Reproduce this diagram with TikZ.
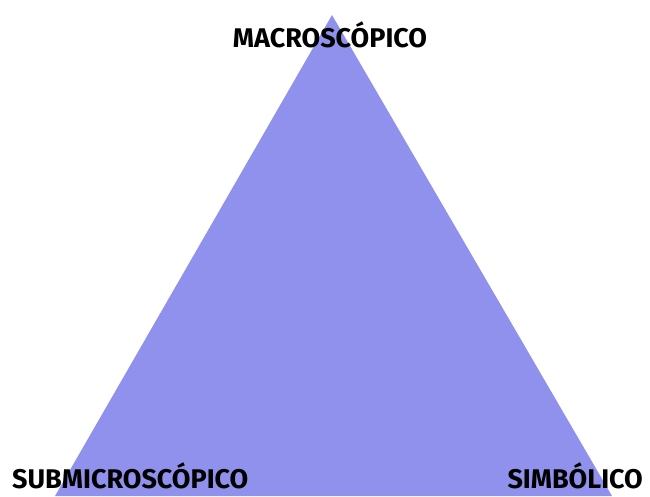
\documentclass[tikz,border=0pt]{standalone}
\usepackage{fontspec}
\setmainfont{Fira Sans}
\definecolor{trianglepurple}{RGB}{144, 144, 237}
\usetikzlibrary{positioning}

\begin{document}
\begin{tikzpicture}[x=1pt, y=-1pt, vertexlabel/.style={font=\fontsize{27}{30}\selectfont\bfseries, inner sep=0pt}]
        \useasboundingbox (0,0) rectangle (650,496);
        \coordinate (apex) at (332,15);
        \coordinate (left) at (55,496);
        \coordinate (right) at (612,496);
        \fill [trianglepurple] (apex) -- (left) -- (right) -- cycle;

        \node [vertexlabel, anchor=base] (macro) at (330,47) {MACROSCÓPICO};
        \node [vertexlabel, anchor=base west] (submicro) at (12,488) {SUBMICROSCÓPICO};
        \node [vertexlabel, anchor=base east] (simbolico) at (643,488) {SIMBÓLICO};
    \end{tikzpicture}
\end{document}
